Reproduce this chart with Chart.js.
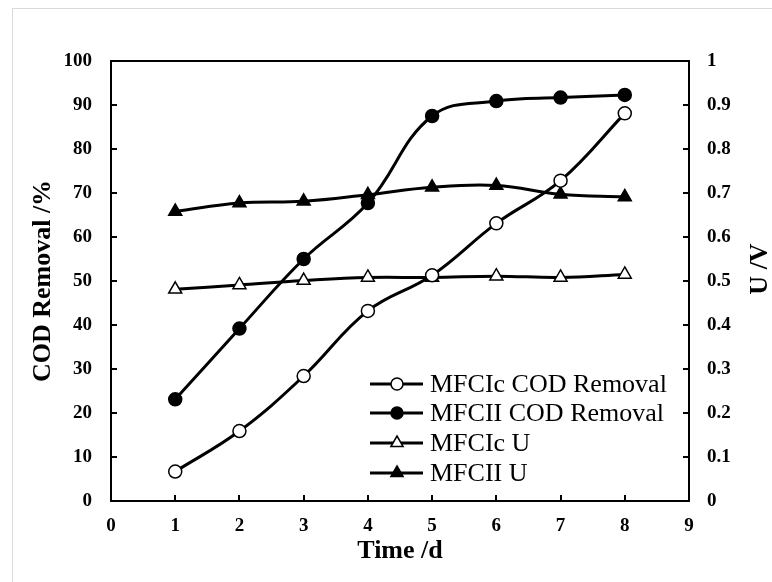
<!DOCTYPE html>
<html lang="en">
<head>
<meta charset="UTF-8">
<title>COD removal and voltage</title>
<script src="https://cdn.jsdelivr.net/npm/chart.js"></script>
<style>
  html, body { margin: 0; padding: 0; background: #fff; overflow: hidden; }
  #frame { position: absolute; left: 12px; top: 8px; width: 800px; height: 620px;
           border-left: 1px solid #d9d9d9; border-top: 1px solid #d9d9d9; }
  #grafica { position: absolute; left: 0; top: 0; }
</style>
</head>
<body>
<div id="frame"></div>
<canvas id="grafica" width="772" height="582"></canvas>
<script>
// data
const days = [1, 2, 3, 4, 5, 6, 7, 8];
const codIc = [6.7, 15.9, 28.4, 43.2, 51.3, 63.1, 72.8, 88.1];
const codII = [23.1, 39.2, 55.0, 67.7, 87.5, 90.9, 91.7, 92.3];
const uIc = [0.481, 0.491, 0.501, 0.508, 0.508, 0.511, 0.508, 0.515];
const uII = [0.658, 0.677, 0.681, 0.696, 0.713, 0.717, 0.697, 0.691];

const xTicks = ['0', '1', '2', '3', '4', '5', '6', '7', '8', '9'];
const leftTicks = ['0', '10', '20', '30', '40', '50', '60', '70', '80', '90', '100'];
const rightTicks = ['0', '0.1', '0.2', '0.3', '0.4', '0.5', '0.6', '0.7', '0.8', '0.9', '1'];
const labels = ['MFCIc COD Removal', 'MFCII COD Removal', 'MFCIc U', 'MFCII U'];

const serif = '"Liberation Serif", "Times New Roman", serif';

function pts(vals) {
  return vals.map((v, i) => ({ x: days[i], y: v }));
}

function serie(label, vals, axis, style, filled) {
  return {
    label: label,
    data: pts(vals),
    yAxisID: axis,
    borderColor: '#000',
    borderWidth: 3,
    tension: 0.4,
    pointStyle: style,
    pointRadius: style === 'triangle' ? 7.5 : 6.5,
    pointBorderWidth: 1.5,
    pointBorderColor: '#000',
    pointBackgroundColor: filled ? '#000' : '#fff'
  };
}

// inward tick marks + box around the plot
const axisMarks = {
  id: 'axisMarks',
  afterDraw(chart) {
    const ctx = chart.ctx;
    const a = chart.chartArea;
    ctx.save();
    ctx.strokeStyle = '#000';
    ctx.lineWidth = 2;
    ctx.beginPath();
    chart.scales.x.ticks.forEach((t, i) => {
      const px = Math.round(chart.scales.x.getPixelForTick(i));
      ctx.moveTo(px, a.bottom); ctx.lineTo(px, a.bottom - 6);
    });
    chart.scales.y.ticks.forEach((t, i) => {
      const py = Math.round(chart.scales.y.getPixelForTick(i));
      ctx.moveTo(a.left, py); ctx.lineTo(a.left + 6, py);
    });
    chart.scales.y1.ticks.forEach((t, i) => {
      const py = Math.round(chart.scales.y1.getPixelForTick(i));
      ctx.moveTo(a.right, py); ctx.lineTo(a.right - 6, py);
    });
    ctx.stroke();
    ctx.strokeRect(a.left, a.top, a.right - a.left, a.bottom - a.top);

    // right axis title, reading upwards like the left one
    const s = chart.scales.y1;
    ctx.fillStyle = '#000';
    ctx.font = 'bold 26px ' + serif;
    ctx.textAlign = 'center';
    ctx.textBaseline = 'middle';
    ctx.translate(s.right - 12, 269);
    ctx.rotate(-Math.PI / 2);
    ctx.fillText('U /V', 0, 0);
    ctx.restore();
  }
};

// legend inside the plot: line with marker, then text
const legendBox = {
  id: 'legendBox',
  afterDraw(chart) {
    const ctx = chart.ctx;
    const x0 = 370, x1 = 423, xm = 397, xt = 430;
    const rows = [384, 413, 443, 473];
    ctx.save();
    chart.data.datasets.forEach((ds, i) => {
      const y = rows[i];
      ctx.strokeStyle = '#000';
      ctx.lineWidth = 3;
      ctx.beginPath();
      ctx.moveTo(x0, y); ctx.lineTo(x1, y);
      ctx.stroke();
      ctx.fillStyle = ds.pointBackgroundColor;
      ctx.lineWidth = 1.5;
      ctx.beginPath();
      if (ds.pointStyle === 'circle') {
        ctx.arc(xm, y, 6, 0, Math.PI * 2);
      } else {
        const r = 7;
        ctx.moveTo(xm, y - r);
        ctx.lineTo(xm + r * 0.87, y + r * 0.5);
        ctx.lineTo(xm - r * 0.87, y + r * 0.5);
        ctx.closePath();
      }
      ctx.fill();
      ctx.stroke();
      ctx.fillStyle = '#000';
      ctx.font = '26px ' + serif;
      ctx.textAlign = 'left';
      ctx.textBaseline = 'middle';
      ctx.fillText(ds.label, xt, y + 1);
    });
    ctx.restore();
  }
};

const tickFont = { family: serif, size: 19, weight: 'bold' };
const titleFont = { family: serif, size: 26, weight: 'bold' };

new Chart(document.getElementById('grafica'), {
  type: 'line',
  data: {
    datasets: [
      serie(labels[0], codIc, 'y', 'circle', false),
      serie(labels[1], codII, 'y', 'circle', true),
      serie(labels[2], uIc, 'y1', 'triangle', false),
      serie(labels[3], uII, 'y1', 'triangle', true)
    ]
  },
  options: {
    responsive: false,
    devicePixelRatio: 1,
    animation: false,
    layout: { padding: { top: 61, left: 0, right: 0, bottom: 0 } },
    plugins: { legend: { display: false }, tooltip: { enabled: false } },
    scales: {
      x: {
        type: 'linear', min: 0, max: 9,
        grid: { display: false, drawTicks: false },
        border: { display: false },
        ticks: { stepSize: 1, padding: 14, color: '#000', font: tickFont,
                 callback: (v, i) => xTicks[i] },
        title: { display: true, text: 'Time /d', color: '#000', font: titleFont,
                 padding: { top: 0, bottom: 15 } },
        afterFit(s) { s.height = 81; }
      },
      y: {
        position: 'left', min: 0, max: 100,
        grid: { display: false, drawTicks: false },
        border: { display: false },
        ticks: { stepSize: 10, padding: 19, color: '#000', font: tickFont,
                 callback: (v, i) => leftTicks[i] },
        title: { display: true, text: 'COD Removal /%', color: '#000', font: titleFont,
                 padding: { top: 28, bottom: 0 } },
        afterFit(s) { s.width = 111; }
      },
      y1: {
        position: 'right', min: 0, max: 1,
        grid: { display: false, drawTicks: false },
        border: { display: false },
        ticks: { stepSize: 0.1, padding: 18, color: '#000', font: tickFont,
                 callback: (v, i) => rightTicks[i] },
        afterFit(s) { s.width = 83; }
      }
    }
  },
  plugins: [axisMarks, legendBox]
});
</script>
</body>
</html>
